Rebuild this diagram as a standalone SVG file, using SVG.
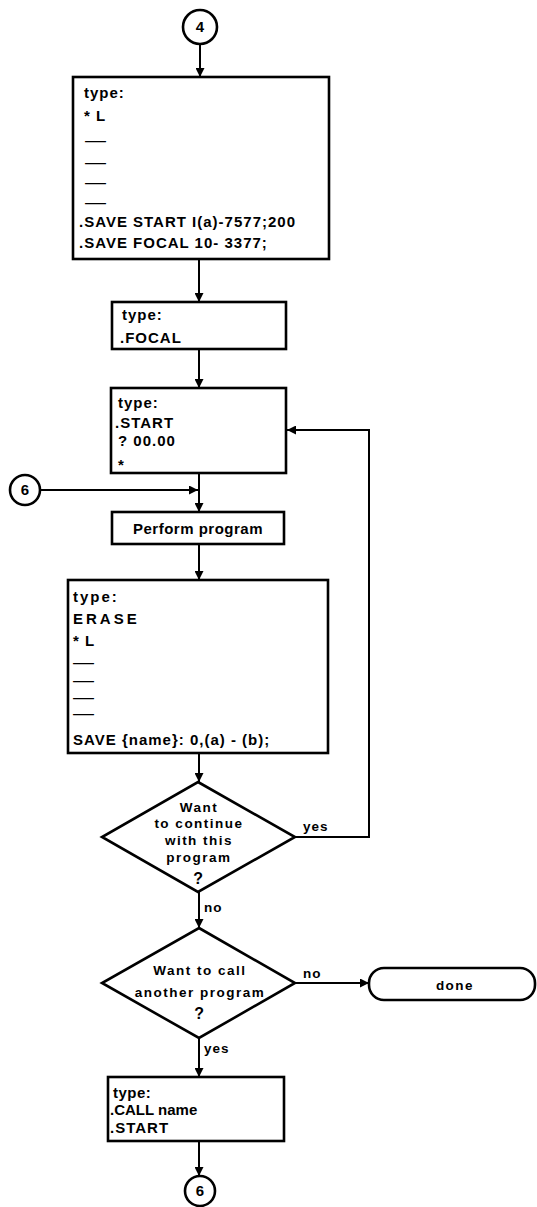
<svg xmlns="http://www.w3.org/2000/svg" width="537" height="1207" viewBox="0 0 537 1207">
<style>
.box{fill:#fff;stroke:#000;stroke-width:2.6}
.con{fill:none;stroke:#000;stroke-width:2}
.t{font-family:"Liberation Sans",Arial,sans-serif;font-weight:bold;font-size:15px;letter-spacing:1px;fill:#000}
.d{font-family:"Liberation Sans",Arial,sans-serif;font-weight:bold;font-size:13px;fill:#000}
.q{font-family:"Liberation Sans",Arial,sans-serif;font-weight:bold;font-size:13.5px;letter-spacing:1.5px;fill:#000;text-anchor:middle}
.l{font-family:"Liberation Sans",Arial,sans-serif;font-weight:bold;font-size:13.5px;letter-spacing:1px;fill:#000}
.c{font-family:"Liberation Sans",Arial,sans-serif;font-weight:bold;font-size:15px;fill:#000;text-anchor:middle}
</style>
<defs>
<marker id="ah" viewBox="0 0 10 10" refX="10" refY="5" markerWidth="12" markerHeight="9" markerUnits="userSpaceOnUse" orient="auto">
<path d="M0,0 L10,5 L0,10 z" fill="#000"/>
</marker>
</defs>
<g id="connectors">
<line class="con" x1="200" y1="44" x2="200" y2="77" marker-end="url(#ah)"/>
<line class="con" x1="199" y1="259" x2="199" y2="302" marker-end="url(#ah)"/>
<line class="con" x1="199" y1="349" x2="199" y2="388" marker-end="url(#ah)"/>
<line class="con" x1="199" y1="473" x2="199" y2="512" marker-end="url(#ah)"/>
<line class="con" x1="40" y1="490" x2="198" y2="490" marker-end="url(#ah)"/>
<line class="con" x1="199" y1="544" x2="199" y2="580" marker-end="url(#ah)"/>
<line class="con" x1="199" y1="753" x2="199" y2="782" marker-end="url(#ah)"/>
<line class="con" x1="199" y1="892" x2="199" y2="928" marker-end="url(#ah)"/>
<line class="con" x1="295" y1="983" x2="369" y2="983" marker-end="url(#ah)"/>
<line class="con" x1="199" y1="1038" x2="199" y2="1077" marker-end="url(#ah)"/>
<line class="con" x1="199" y1="1141" x2="199" y2="1176" marker-end="url(#ah)"/>
<polyline class="con" points="295,837 369,837 369,430 287,430" marker-end="url(#ah)"/>
<text class="l" x="204" y="912">no</text>
<text class="l" x="303" y="978">no</text>
<text class="l" x="204" y="1053">yes</text>
<text class="l" x="303" y="831">yes</text>
</g>
<g id="c4">
<circle class="box" cx="200" cy="27" r="17"/>
<text class="c" x="200" y="32">4</text>
</g>
<g id="box1">
<rect class="box" x="73" y="77" width="256" height="182"/>
<text class="t" x="84" y="98">type:</text>
<text class="t" x="84" y="121">* L</text>
<text class="d" x="85" y="145" textLength="21" lengthAdjust="spacingAndGlyphs">—</text>
<text class="d" x="85" y="167" textLength="21" lengthAdjust="spacingAndGlyphs">—</text>
<text class="d" x="85" y="187" textLength="21" lengthAdjust="spacingAndGlyphs">—</text>
<text class="d" x="85" y="207" textLength="21" lengthAdjust="spacingAndGlyphs">—</text>
<text class="t" x="79" y="227">.SAVE  START I(a)-7577;200</text>
<text class="t" x="79" y="248">.SAVE  FOCAL 10- 3377;</text>
</g>
<g id="box2">
<rect class="box" x="112" y="302" width="174" height="47"/>
<text class="t" x="122" y="320">type:</text>
<text class="t" x="120" y="343">.FOCAL</text>
</g>
<g id="box3">
<rect class="box" x="111" y="388" width="175" height="85"/>
<text class="t" x="118" y="408">type:</text>
<text class="t" x="115" y="428">.START</text>
<text class="t" x="118" y="446">? 00.00</text>
<text class="t" x="118" y="470">*</text>
</g>
<g id="c6a">
<circle class="box" cx="25" cy="490" r="15"/>
<text class="c" x="25" y="495">6</text>
</g>
<g id="perform">
<rect class="box" x="112" y="512" width="172" height="32"/>
<text class="c" x="198" y="534" style="letter-spacing:0.5px">Perform program</text>
</g>
<g id="box5">
<rect class="box" x="68" y="580" width="260" height="173"/>
<text class="t" x="73" y="602" style="letter-spacing:2px">type:</text>
<text class="t" x="73" y="624" style="letter-spacing:3px">ERASE</text>
<text class="t" x="73" y="646">* L</text>
<text class="d" x="73" y="667" textLength="21" lengthAdjust="spacingAndGlyphs">—</text>
<text class="d" x="73" y="685" textLength="21" lengthAdjust="spacingAndGlyphs">—</text>
<text class="d" x="73" y="702" textLength="21" lengthAdjust="spacingAndGlyphs">—</text>
<text class="d" x="73" y="718" textLength="21" lengthAdjust="spacingAndGlyphs">—</text>
<text class="t" x="73" y="745">SAVE {name}: 0,(a) - (b);</text>
</g>
<g id="dec1">
<polygon class="box" points="198,782 295,837 198,892 102,837"/>
<text class="q" x="199" y="812">Want</text>
<text class="q" x="199" y="828">to continue</text>
<text class="q" x="199" y="845">with this</text>
<text class="q" x="199" y="862">program</text>
<text class="q" x="199" y="884" style="font-size:16px">?</text>
</g>
<g id="dec2">
<polygon class="box" points="199,928 295,983 199,1038 102,983"/>
<text class="q" x="200" y="975">Want to call</text>
<text class="q" x="200" y="997">another program</text>
<text class="q" x="200" y="1019" style="font-size:16px">?</text>
</g>
<g id="done">
<rect class="box" x="369" y="968" width="166" height="32" rx="15" ry="15"/>
<text class="q" x="455" y="990">done</text>
</g>
<g id="box6">
<rect class="box" x="108" y="1077" width="176" height="64"/>
<text class="t" x="113" y="1098" style="letter-spacing:0.5px">type:</text>
<text class="t" x="110" y="1115" style="letter-spacing:0px">.CALL name</text>
<text class="t" x="110" y="1133">.START</text>
</g>
<g id="c6b">
<circle class="box" cx="200" cy="1191" r="15"/>
<text class="c" x="200" y="1196">6</text>
</g>
</svg>
